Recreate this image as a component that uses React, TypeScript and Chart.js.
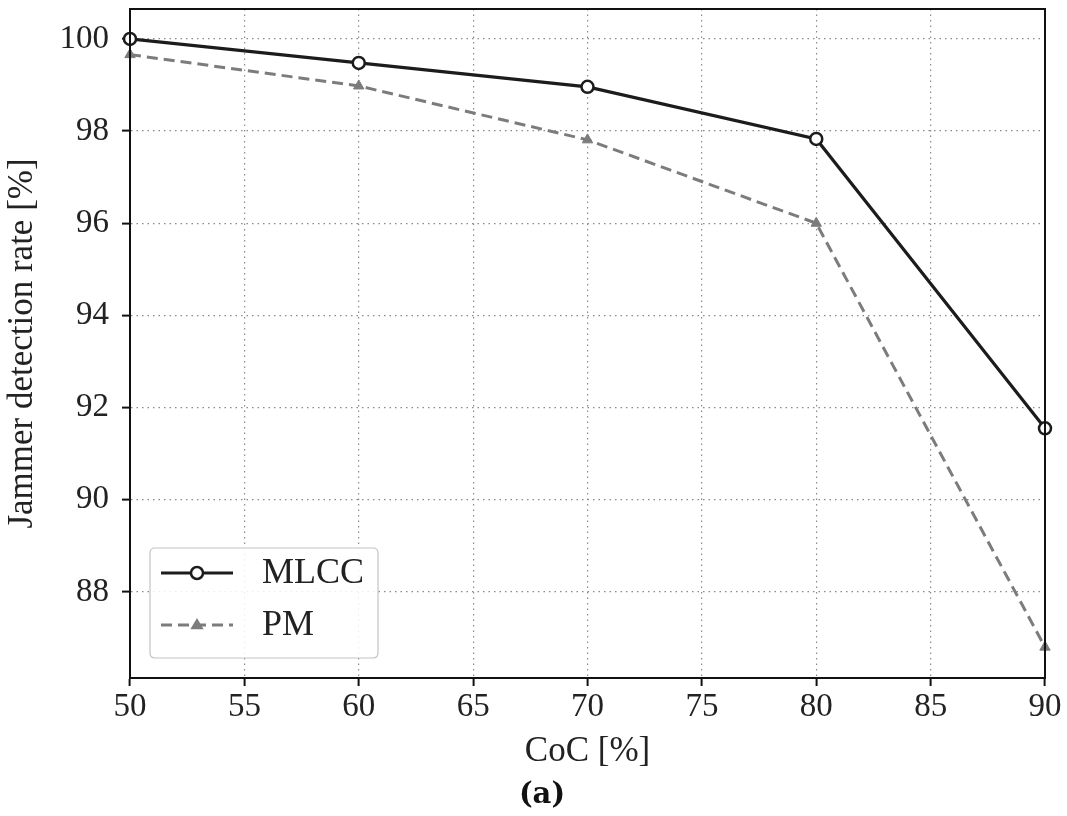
import React, { useEffect, useRef } from "react";
import { Chart, registerables } from "chart.js";

Chart.register(...registerables);

const cocValues = [50, 60, 70, 80, 90];
const mlccRates = [100.0, 99.48, 98.96, 97.83, 91.55];
const pmRates = [99.66, 98.98, 97.81, 96.0, 86.8];
const seriesNames = ["MLCC", "PM"];
const xTitle = "CoC [%]";
const yTitle = "Jammer detection rate [%]";
const caption = "(a)";

const SERIF = "'Liberation Serif', 'Times New Roman', serif";

const boxAndLegend = {
  id: "boxAndLegend",
  afterDraw(chart: any) {
    const { ctx, chartArea } = chart;
    const { left, top, right, bottom } = chartArea;
    ctx.save();
    ctx.strokeStyle = "#111";
    ctx.lineWidth = 2;
    ctx.setLineDash([]);
    ctx.strokeRect(left, top, right - left, bottom - top);

    const bx = left + 20;
    const by = bottom - 130;
    const bw = 228;
    const bh = 110;
    const r = 5;
    ctx.beginPath();
    ctx.moveTo(bx + r, by);
    ctx.lineTo(bx + bw - r, by);
    ctx.quadraticCurveTo(bx + bw, by, bx + bw, by + r);
    ctx.lineTo(bx + bw, by + bh - r);
    ctx.quadraticCurveTo(bx + bw, by + bh, bx + bw - r, by + bh);
    ctx.lineTo(bx + r, by + bh);
    ctx.quadraticCurveTo(bx, by + bh, bx, by + bh - r);
    ctx.lineTo(bx, by + r);
    ctx.quadraticCurveTo(bx, by, bx + r, by);
    ctx.closePath();
    ctx.fillStyle = "rgba(255,255,255,0.85)";
    ctx.fill();
    ctx.strokeStyle = "#c4c4c4";
    ctx.lineWidth = 1.2;
    ctx.stroke();

    const datasets = chart.data.datasets;
    const rows = [by + 25, by + 77];
    datasets.forEach((ds: any, i: number) => {
      const y = rows[i];
      ctx.beginPath();
      ctx.setLineDash(ds.borderDash || []);
      ctx.strokeStyle = ds.borderColor;
      ctx.lineWidth = ds.borderWidth;
      ctx.moveTo(bx + 11, y);
      ctx.lineTo(bx + 83, y);
      ctx.stroke();
      ctx.setLineDash([]);
      const cx = bx + 47;
      if (ds.pointStyle === "triangle") {
        const rr = 7;
        ctx.beginPath();
        ctx.moveTo(cx, y - rr);
        ctx.lineTo(cx + rr * 0.95, y + rr * 0.6);
        ctx.lineTo(cx - rr * 0.95, y + rr * 0.6);
        ctx.closePath();
        ctx.fillStyle = ds.pointBackgroundColor;
        ctx.fill();
      } else {
        ctx.beginPath();
        ctx.arc(cx, y, 6, 0, Math.PI * 2);
        ctx.fillStyle = ds.pointBackgroundColor;
        ctx.fill();
        ctx.strokeStyle = ds.pointBorderColor;
        ctx.lineWidth = ds.pointBorderWidth;
        ctx.stroke();
      }
      ctx.fillStyle = "#222";
      ctx.font = `36px ${SERIF}`;
      ctx.textAlign = "left";
      ctx.textBaseline = "middle";
      ctx.fillText(ds.label, bx + 112, y + 1);
    });

    ctx.fillStyle = "#111";
    ctx.font = `bold 29px 'DejaVu Serif', serif`;
    ctx.textAlign = "center";
    ctx.textBaseline = "middle";
    ctx.fillText(caption, 542, 795);
    ctx.restore();
  },
};

export default function App() {
  const ref = useRef<HTMLCanvasElement | null>(null);
  useEffect(() => {
    if (!ref.current) return;
    const chart = new Chart(ref.current, {
      type: "line",
      data: {
        datasets: [
          {
            label: seriesNames[0],
            data: cocValues.map((x, i) => ({ x, y: mlccRates[i] })),
            borderColor: "#1c1c1c",
            borderWidth: 3.2,
            pointStyle: "circle",
            pointRadius: 6,
            pointBackgroundColor: "#ffffff",
            pointBorderColor: "#1c1c1c",
            pointBorderWidth: 2.5,
            tension: 0,
            clip: false,
          } as any,
          {
            label: seriesNames[1],
            data: cocValues.map((x, i) => ({ x, y: pmRates[i] })),
            borderColor: "#7c7c7c",
            borderWidth: 3,
            borderDash: [11, 6],
            pointStyle: "triangle",
            pointRadius: 6,
            pointBackgroundColor: "#7c7c7c",
            pointBorderColor: "#7c7c7c",
            pointBorderWidth: 1,
            tension: 0,
            clip: false,
          } as any,
        ],
      },
      options: {
        animation: false,
        responsive: true,
        maintainAspectRatio: false,
        layout: { padding: { top: 9, right: 0, left: 0, bottom: 0 } },
        plugins: {
          legend: { display: false },
          tooltip: { enabled: false },
        },
        scales: {
          x: {
            type: "linear",
            min: 50,
            max: 90,
            ticks: {
              stepSize: 5,
              color: "#222",
              font: { family: SERIF, size: 33 },
              padding: 2,
            },
            grid: {
              color: "#8a8a8a",
              lineWidth: 1.2,
              tickLength: 8,
              tickColor: "#111",
              tickWidth: 2,
              tickBorderDash: [],
            },
            border: { display: true, color: "#111", width: 2, dash: [1.5, 4] },
            title: {
              display: true,
              text: xTitle,
              color: "#222",
              font: { family: SERIF, size: 35 },
              padding: { top: 0, bottom: 43 },
            },
            afterFit: (s: any) => {
              s.height = 138;
              s.paddingLeft = 0;
              s.paddingRight = 22;
            },
          },
          y: {
            type: "linear",
            min: 86.13,
            max: 100.65,
            afterBuildTicks: (s: any) => {
              s.ticks = [88, 90, 92, 94, 96, 98, 100].map((v) => ({ value: v }));
            },
            ticks: {
              color: "#222",
              font: { family: SERIF, size: 33 },
              padding: 13,
            },
            grid: {
              color: "#8a8a8a",
              lineWidth: 1.2,
              tickLength: 8,
              tickColor: "#111",
              tickWidth: 2,
              tickBorderDash: [],
            },
            border: { display: true, color: "#111", width: 2, dash: [1.5, 4] },
            title: {
              display: true,
              text: yTitle,
              color: "#222",
              font: { family: SERIF, size: 35 },
              padding: { top: 2, bottom: 0 },
            },
            afterFit: (s: any) => {
              s.width = 130;
              s.paddingTop = 0;
              s.paddingBottom = 0;
            },
          },
        },
      },
      plugins: [boxAndLegend],
    });
    return () => chart.destroy();
  }, []);

  return (
    <div style={{ position: "fixed", left: 0, top: 0, width: 1067, height: 816, background: "#fff" }}>
      <canvas ref={ref} />
    </div>
  );
}
